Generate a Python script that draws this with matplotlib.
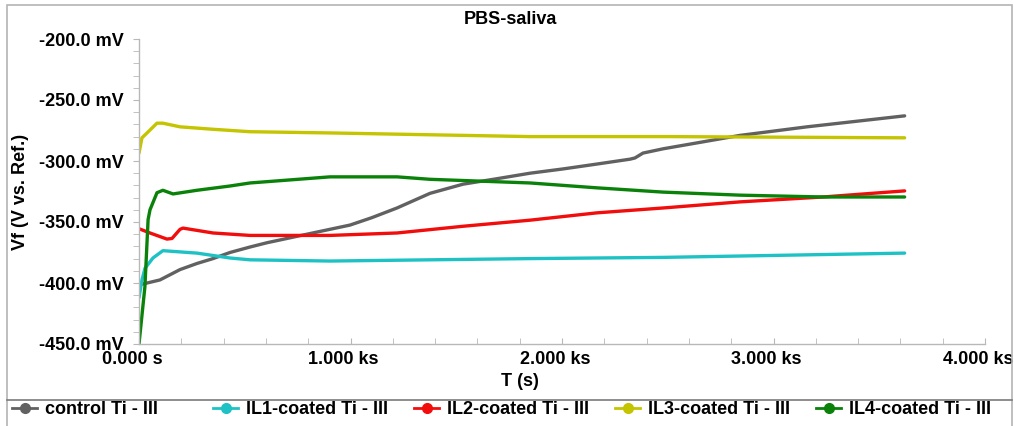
import matplotlib.pyplot as plt
import matplotlib.transforms as mtransforms
from matplotlib.lines import Line2D
from matplotlib.patches import Rectangle
from matplotlib.ticker import MultipleLocator, FuncFormatter

plt.rcParams['font.family'] = ['Liberation Sans', 'DejaVu Sans']
plt.rcParams['font.weight'] = 'bold'

# Time (s) and potential (mV)
control_t = [0, 14, 99, 194, 274, 350, 430, 525, 605, 794, 998, 1100, 1220, 1376,
             1532, 1693, 1849, 2005, 2165, 2322, 2345, 2383, 2478, 2842, 3158, 3620]
control_v = [-402, -401, -397.5, -389, -384, -380, -375, -370.5, -367, -360, -352.5,
             -346.5, -338.5, -326.5, -319, -314.5, -310, -306.5, -302.5, -298.5, -297.5,
             -293.5, -290, -279, -272, -263]

il1_t = [0, 14, 28, 66, 113, 274, 430, 525, 903, 1849, 2478, 3620]
il1_v = [-412, -397.5, -388, -379.5, -373.5, -375.5, -379.5, -381, -382, -380, -379, -375.5]

il2_t = [0, 52, 132, 156, 194, 208, 350, 525, 903, 1220, 1532, 1849, 2165, 2478,
         2842, 3234, 3620]
il2_v = [-355.5, -359, -364, -363.5, -356, -355, -359, -361, -361, -359, -353.5,
         -348.5, -342.5, -338.5, -333.5, -329.5, -324.5]

il3_t = [0, 14, 38, 85, 113, 194, 350, 525, 903, 1376, 1849, 2500, 3620]
il3_v = [-293.5, -281, -277, -269, -269, -272, -274, -276, -277, -278.5, -280, -280, -281]

il4_t = [0, 28, 43, 52, 85, 113, 161, 274, 430, 525, 903, 1220, 1376, 1612, 1849,
         2165, 2478, 2842, 3234, 3620]
il4_v = [-450, -403, -348, -340, -326, -324, -327, -324, -320.5, -318, -313, -313,
         -315, -316.5, -318, -322, -325.5, -328, -329.5, -329.5]

labels = ['control Ti - III', 'IL1-coated Ti - III', 'IL2-coated Ti - III',
          'IL3-coated Ti - III', 'IL4-coated Ti - III']
colors = ['#616161', '#1ec2c4', '#f20d0d', '#c4c400', '#0a820a']

fig = plt.figure(figsize=(10.14, 4.26), dpi=100)
ax = fig.add_axes([139 / 1014, 1 - 344 / 426, 846 / 1014, 305 / 426])

series = [(control_t, control_v), (il1_t, il1_v), (il2_t, il2_v),
          (il3_t, il3_v), (il4_t, il4_v)]
for (t, v), c in zip(series, colors):
    ax.plot(t, v, color=c, lw=2.4, solid_capstyle='round')

ax.set_xlim(0, 4000)
ax.set_ylim(-450, -200)
ax.xaxis.set_major_locator(MultipleLocator(1000))
ax.xaxis.set_minor_locator(MultipleLocator(200))
ax.yaxis.set_major_locator(MultipleLocator(50))
ax.yaxis.set_minor_locator(MultipleLocator(10))
ax.xaxis.set_major_formatter(FuncFormatter(
    lambda x, p: '0.000 s' if x == 0 else f'{x / 1000:.3f} ks'))
ax.yaxis.set_major_formatter(FuncFormatter(lambda y, p: f'{y:.1f} mV'))

for s in ['top', 'right']:
    ax.spines[s].set_visible(False)
for s in ['left', 'bottom']:
    ax.spines[s].set_color('#b8b8b8')
    ax.spines[s].set_linewidth(1)

ax.tick_params(axis='y', which='both', direction='out', color='#b8b8b8',
               labelsize=13, pad=7, length=4)
ax.tick_params(axis='x', which='both', direction='in', color='#b8b8b8',
               labelsize=13, pad=5, length=4)

# x tick labels sit a little left of their ticks in the reference
shift = mtransforms.ScaledTranslation(-7 / 100, 0, fig.dpi_scale_trans)
for lbl in ax.get_xticklabels():
    lbl.set_transform(lbl.get_transform() + shift)

ax.set_ylabel('Vf (V vs. Ref.)', fontsize=13, fontweight='bold')
ax.yaxis.set_label_coords((29 - 139) / 846, 0.5)

fig.text(510 / 1014, 1 - 19 / 426, 'PBS-saliva', ha='center', va='center',
         fontsize=13, fontweight='bold')
fig.text(520 / 1014, 1 - 382 / 426, 'T (s)', ha='center', va='center',
         fontsize=13, fontweight='bold')

# outer frame and legend separator
fig.patches.append(Rectangle((7 / 1014, -0.1), 1005 / 1014, 1.1 - 5 / 426,
                             transform=fig.transFigure, fill=False,
                             edgecolor='#b4b4b4', lw=1.2))
fig.add_artist(Line2D([7 / 1014, 1012 / 1014], [1 - 400 / 426] * 2,
                      transform=fig.transFigure, color='#7a7a7a', lw=1.2))

# legend, one slot per series
for i, (lab, c) in enumerate(zip(labels, colors)):
    h = Line2D([], [], color=c, lw=2, marker='o', markersize=7)
    lg = fig.legend([h], [lab], loc='center left',
                    bbox_to_anchor=((12 + 201 * i) / 1014, 1 - 410 / 426),
                    frameon=False, fontsize=13, handlelength=1.4,
                    handletextpad=0.45, borderpad=0, borderaxespad=0)
    for txt in lg.get_texts():
        txt.set_fontweight('bold')

fig.savefig('out.png', dpi=100)
